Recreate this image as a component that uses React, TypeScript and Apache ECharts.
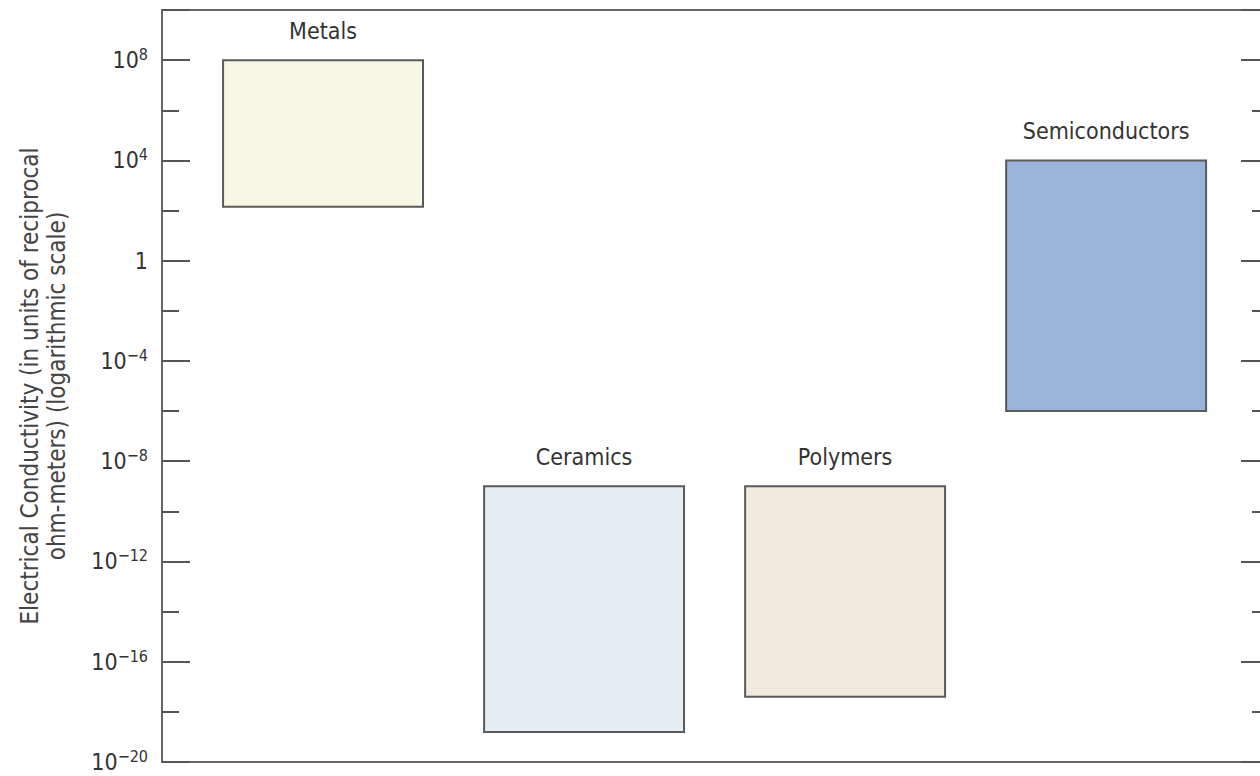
import React, { useEffect, useRef } from "react";
import * as echarts from "echarts";

// Material classes and their electrical-conductivity ranges (base-10 exponents, S/m)
const categories = ["Metals", "Ceramics", "Polymers", "Semiconductors"];
const lowExponent = [2.15, -18.8, -17.4, -6];
const highExponent = [8, -9, -9, 4];
const fillColors = ["#f8f7e6", "#e3eef6", "#f3e9de", "#9ab4d9"];

// y axis (exponent scale) range and tick spacing
const yMinExp = -20;
const yMaxExp = 10;
const labelStep = 4;
const minorStep = 2;

const FONT = "'Liberation Sans Narrow', 'DejaVu Sans Condensed', 'Liberation Sans', sans-serif";

export default function App() {
  const ref = useRef<HTMLDivElement>(null);

  useEffect(() => {
    if (!ref.current) return;
    const chart = echarts.init(ref.current, null, { renderer: "svg" });

    const data = categories.map((c, i) => [i + 1, lowExponent[i], highExponent[i]]);

    const tickColor = "#555";
    const baseAxis = {
      type: "value",
      min: yMinExp,
      max: yMaxExp,
      splitLine: { show: false },
    };

    const option = {
      animation: false,
      backgroundColor: "#ffffff",
      grid: {
        left: 162,
        right: -9,
        top: 10,
        bottom: 14,
        show: true,
        borderColor: "#666",
        borderWidth: 2,
        backgroundColor: "transparent",
        containLabel: false,
        outerBoundsMode: "none",
      },
      xAxis: {
        type: "value",
        min: 0.383,
        max: 4.624,
        show: false,
      },
      yAxis: [
        {
          ...baseAxis,
          interval: labelStep,
          position: "left",
          axisLine: { show: true, lineStyle: { color: "#666", width: 2 } },
          axisTick: { show: true, inside: true, length: 28, lineStyle: { color: tickColor, width: 2 } },
          axisLabel: {
            margin: 14,
            formatter: (v: number) => {
              if (v % labelStep !== 0 || v > 8) return "";
              if (v === 0) return "{base|1}";
              const exp = v < 0 ? "\u2212" + Math.abs(v) : String(v);
              return "{base|10}{sup|" + exp + "}";
            },
            rich: {
              base: { fontFamily: FONT, fontSize: 23, color: "#333", lineHeight: 24 },
              sup: { fontFamily: FONT, fontSize: 16, color: "#333", padding: [0, 0, 11, 0] },
            },
          },
          name: "Electrical Conductivity (in units of reciprocal\nohm-meters) (logarithmic scale)",
          nameLocation: "middle",
          nameRotate: 90,
          nameGap: 92,
          nameTextStyle: {
            fontFamily: FONT,
            fontSize: 24,
            color: "#444",
            lineHeight: 27,
          },
        },
        {
          ...baseAxis,
          interval: minorStep,
          position: "left",
          axisLine: { show: false },
          axisTick: { show: true, inside: true, length: 17, lineStyle: { color: tickColor, width: 2 } },
          axisLabel: { show: false },
        },
        {
          ...baseAxis,
          interval: labelStep,
          position: "right",
          axisLine: { show: false },
          axisTick: { show: true, inside: true, length: 28, lineStyle: { color: tickColor, width: 2 } },
          axisLabel: { show: false },
        },
        {
          ...baseAxis,
          interval: minorStep,
          position: "right",
          axisLine: { show: false },
          axisTick: { show: true, inside: true, length: 17, lineStyle: { color: tickColor, width: 2 } },
          axisLabel: { show: false },
        },
      ],
      series: [
        {
          type: "custom",
          yAxisIndex: 0,
          data,
          encode: { x: 0, y: [1, 2] },
          renderItem: (params: any, api: any) => {
            const i = params.dataIndex;
            const x = api.value(0);
            const lo = api.value(1);
            const hi = api.value(2);
            const top = api.coord([x, hi]);
            const bot = api.coord([x, lo]);
            const w = api.size([0.766, 0])[0];
            return {
              type: "group",
              children: [
                {
                  type: "rect",
                  shape: { x: top[0] - w / 2, y: top[1], width: w, height: bot[1] - top[1] },
                  style: { fill: fillColors[i], stroke: "#5a5a5a", lineWidth: 2 },
                },
                {
                  type: "text",
                  x: top[0],
                  y: top[1] - 29,
                  style: {
                    text: categories[i],
                    fill: "#333",
                    fontFamily: FONT,
                    fontSize: 23,
                    align: "center",
                    verticalAlign: "middle",
                  },
                },
              ],
            };
          },
        },
      ],
    };

    chart.setOption(option as any);
    return () => chart.dispose();
  }, []);

  return (
    <div
      ref={ref}
      style={{ position: "fixed", left: 0, top: 0, width: 1260, height: 776 }}
    />
  );
}
